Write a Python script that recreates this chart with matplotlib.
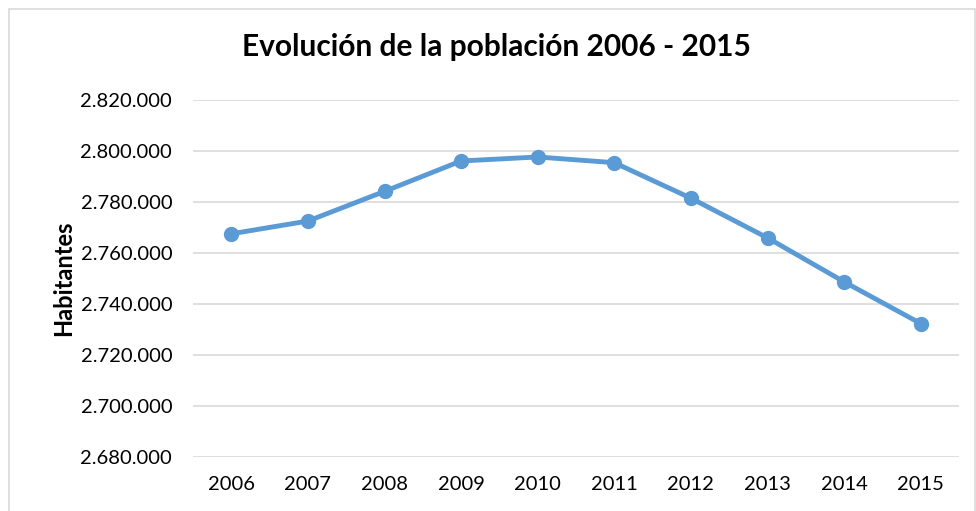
import matplotlib.pyplot as plt
from matplotlib.patches import Rectangle
from matplotlib.ticker import FuncFormatter

anios = ['2006', '2007', '2008', '2009', '2010', '2011', '2012', '2013', '2014', '2015']
habitantes = [2767524, 2772533, 2784169, 2796089, 2797653, 2795422, 2781498, 2765940, 2748695, 2732347]

plt.rcParams['font.family'] = ['Lato', 'DejaVu Sans']

fg = plt.figure(figsize=(9.76, 5.11), dpi=100)
ax = fg.add_axes([193 / 976, 1 - 457 / 511, (959 - 193) / 976, (457 - 100) / 511])

# borde del gráfico
fg.patches.append(Rectangle((9 / 976, -0.02), (975 - 9) / 976, 1 - 9 / 511 + 0.02,
                            transform=fg.transFigure, fill=False,
                            edgecolor='#D9D9D9', linewidth=1.2))

x = list(range(len(anios)))
ax.plot(x, habitantes, color='#5B9BD5', linewidth=3.5, marker='o', markersize=10, zorder=3)

ax.set_xlim(-0.5, len(anios) - 0.5)
ax.set_ylim(2680000, 2820000)
ax.set_yticks(range(2680000, 2820001, 20000))
ax.yaxis.set_major_formatter(FuncFormatter(lambda v, p: f'{int(v):,}'.replace(',', '.')))
ax.set_xticks(x)
ax.set_xticklabels(anios)

ax.grid(axis='y', color='#D9D9D9', linewidth=1.2)
ax.set_axisbelow(True)
for s in ax.spines.values():
    s.set_visible(False)
ax.tick_params(axis='both', length=0, labelsize=14.5, colors='black')
ax.tick_params(axis='y', pad=15)
ax.tick_params(axis='x', pad=14)

ax.set_ylabel('Habitantes', fontsize=17, fontweight='bold', labelpad=4)
fg.text(0.509, 1 - 47 / 511, 'Evolución de la población 2006 - 2015',
        ha='center', va='center', fontsize=21.5, fontweight='bold')

fg.savefig('out.png', dpi=100)
